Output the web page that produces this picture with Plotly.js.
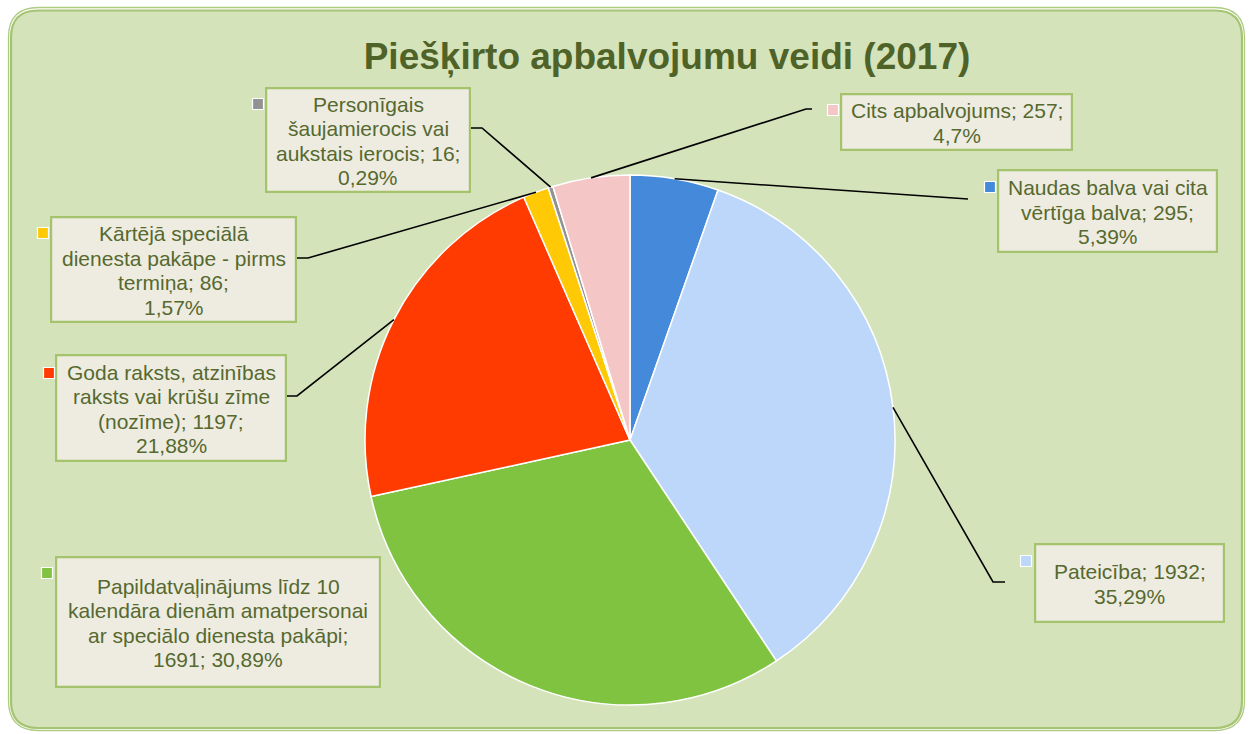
<!DOCTYPE html>
<html>
<head>
<meta charset="utf-8">
<script src="https://cdn.plot.ly/plotly-3.0.1.min.js"></script>
<style>html,body{margin:0;padding:0;background:#fff;}#chart{width:1253px;height:734px;}</style>
</head>
<body>
<div id="chart"></div>
<script>
// ---- data ----
const categories = [
  "Naudas balva vai cita vērtīga balva",
  "Pateicība",
  "Papildatvaļinājums līdz 10 kalendāra dienām amatpersonai ar speciālo dienesta pakāpi",
  "Goda raksts, atzinības raksts vai krūšu zīme (nozīme)",
  "Kārtējā speciālā dienesta pakāpe - pirms termiņa",
  "Personīgais šaujamierocis vai aukstais ierocis",
  "Cits apbalvojums"
];
const values = [295, 1932, 1691, 1197, 86, 16, 257];
const percentLabels = ["5,39%", "35,29%", "30,89%", "21,88%", "1,57%", "0,29%", "4,7%"];
const labelTexts = [
  "Naudas balva vai cita<br>vērtīga balva; 295;<br>5,39%",
  "Pateicība; 1932;<br>35,29%",
  "Papildatvaļinājums līdz 10<br>kalendāra dienām amatpersonai<br>ar speciālo dienesta pakāpi;<br>1691; 30,89%",
  "Goda raksts, atzinības<br>raksts vai krūšu zīme<br>(nozīme); 1197;<br>21,88%",
  "Kārtējā speciālā<br>dienesta pakāpe - pirms<br>termiņa; 86;<br>1,57%",
  "Personīgais<br>šaujamierocis vai<br>aukstais ierocis; 16;<br>0,29%",
  "Cits apbalvojums; 257;<br>4,7%"
];
const colors = ["#4589DB", "#BCD7F9", "#80C341", "#FF3B02", "#FFCA05", "#929292", "#F5C6C6"];
const chartTitle = "Piešķirto apbalvojumu veidi (2017)";

// ---- layout helpers (pixel -> paper) ----
const W = 1253, H = 734;
const px = x => x / W;
const py = y => 1 - y / H;
const PIE = {cx: 630, cy: 440, r: 265};

// label boxes: [left, top, right, bottom] in px
const boxes = [
  [997, 169, 1218, 253],
  [1034, 543, 1225, 623],
  [55, 556, 381, 688],
  [55, 354, 287, 462],
  [50, 216, 297, 323],
  [265, 87, 471, 193],
  [840, 93, 1073, 151]
];
const keySquares = [
  [990, 187], [1026, 561], [47, 573], [49, 373], [43, 233], [258, 104], [833, 110]
];
// leader line elbow points (after the pie point), null = no line
const leaders = [
  [[968, 199]],
  [[993, 582], [1005, 582]],
  null,
  [[297, 396], [286, 396]],
  [[308, 258], [297, 258]],
  [[482, 128], [471, 128]],
  [[806, 109], [812, 109]]
];

const total = values.reduce((a, b) => a + b, 0);
function piePoint(i) {
  let cum = 0;
  for (let k = 0; k < i; k++) cum += values[k];
  const a = 2 * Math.PI * (cum + values[i] / 2) / total;
  return [PIE.cx + PIE.r * Math.sin(a), PIE.cy - PIE.r * Math.cos(a)];
}

function rrect(x0, y0, x1, y1, r) {
  return `M${px(x0 + r)},${py(y0)} L${px(x1 - r)},${py(y0)} Q${px(x1)},${py(y0)} ${px(x1)},${py(y0 + r)} ` +
    `L${px(x1)},${py(y1 - r)} Q${px(x1)},${py(y1)} ${px(x1 - r)},${py(y1)} ` +
    `L${px(x0 + r)},${py(y1)} Q${px(x0)},${py(y1)} ${px(x0)},${py(y1 - r)} ` +
    `L${px(x0)},${py(y0 + r)} Q${px(x0)},${py(y0)} ${px(x0 + r)},${py(y0)} Z`;
}

const shapes = [
  {type: 'path', xref: 'paper', yref: 'paper', layer: 'below', path: rrect(8.5, 7.5, 1244.5, 730.5, 30),
   line: {color: '#AECB82', width: 1.3}, fillcolor: 'rgba(0,0,0,0)'},
  {type: 'path', xref: 'paper', yref: 'paper', layer: 'below', path: rrect(11, 10.5, 1242, 728, 27),
   line: {color: '#A5C471', width: 2.2}, fillcolor: '#D5E3BA'}
];

leaders.forEach((pts, i) => {
  if (!pts) return;
  const p0 = piePoint(i);
  let d = `M${px(p0[0])},${py(p0[1])}`;
  pts.forEach(p => { d += ` L${px(p[0])},${py(p[1])}`; });
  shapes.push({type: 'path', xref: 'paper', yref: 'paper', path: d, line: {color: '#000000', width: 1.6}});
});

// label boxes
const BW = 2.2;
boxes.forEach(b => {
  shapes.push({type: 'rect', xref: 'paper', yref: 'paper',
    x0: px(b[0] + BW / 2), x1: px(b[2] - BW / 2), y0: py(b[3] - BW / 2), y1: py(b[1] + BW / 2),
    fillcolor: '#EEECE1', line: {color: '#A4C36C', width: BW}});
});

keySquares.forEach((c, i) => {
  const s = 5.5;
  shapes.push({type: 'rect', xref: 'paper', yref: 'paper',
    x0: px(c[0] - s), x1: px(c[0] + s), y0: py(c[1] + s), y1: py(c[1] - s),
    fillcolor: colors[i], line: {color: '#FFFFFF', width: 1.2}});
});

// label text, one annotation per line for Excel-like line spacing
const LINE = 24.4;
const annotations = [];
labelTexts.forEach((t, i) => {
  const b = boxes[i];
  const lines = t.split('<br>');
  const cx = (b[0] + b[2]) / 2, cy = (b[1] + b[3]) / 2 + 1;
  lines.forEach((ln, j) => {
    const y = cy + (j - (lines.length - 1) / 2) * LINE;
    annotations.push({
      xref: 'paper', yref: 'paper', x: px(cx), y: py(y),
      xanchor: 'center', yanchor: 'middle',
      text: ln, showarrow: false, align: 'center',
      font: {family: 'Liberation Sans, Arial, sans-serif', size: 21, color: '#56692F'}
    });
  });
});

const trace = {
  type: 'pie',
  labels: categories,
  values: values,
  sort: false,
  direction: 'clockwise',
  rotation: 0,
  textinfo: 'none',
  textposition: 'none',
  customdata: percentLabels,
  hovertemplate: '%{label}; %{value}; %{customdata}<extra></extra>',
  marker: {colors: colors, line: {color: '#FFFFFF', width: 1.5}},
  domain: {x: [px(PIE.cx - PIE.r), px(PIE.cx + PIE.r)], y: [py(PIE.cy + PIE.r), py(PIE.cy - PIE.r)]},
  showlegend: false
};

const layout = {
  width: W, height: H,
  margin: {l: 0, r: 0, t: 0, b: 0},
  paper_bgcolor: '#FFFFFF',
  title: {
    text: '<b>' + chartTitle + '</b>',
    x: px(667), xanchor: 'center', xref: 'paper',
    y: py(56), yanchor: 'middle', yref: 'paper',
    font: {family: 'Liberation Sans, Arial, sans-serif', size: 37, color: '#4F6228'}
  },
  shapes: shapes,
  annotations: annotations,
  showlegend: false
};

Plotly.newPlot('chart', [trace], layout, {displayModeBar: false, staticPlot: true});
</script>
</body>
</html>
